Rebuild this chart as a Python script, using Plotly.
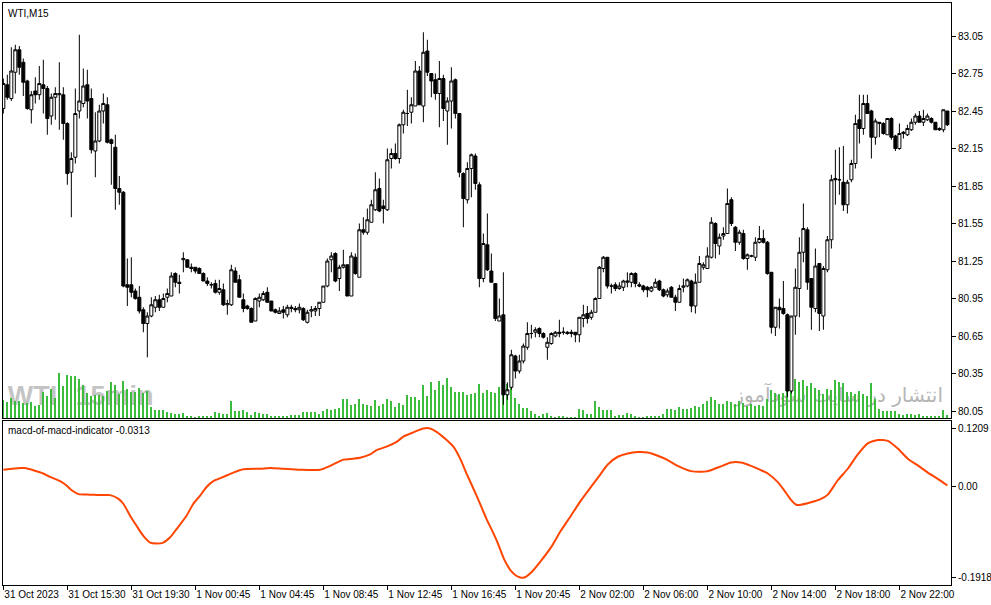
"""WTI M15 candles + tick volume, with a macd-of-macd sub-window (MT4 look)."""
import plotly.graph_objects as go

# ----- data -----
bar_idx = list(range(237))

opens = [
    82.47, 82.66, 82.55, 82.76, 82.94, 82.84, 82.69, 82.46, 82.61, 82.58,
    82.66, 82.63, 82.41, 82.56, 82.58, 82.58, 82.35, 81.96, 82.08, 82.45,
    82.51, 82.66, 82.55, 82.13, 82.21, 82.45, 82.50, 82.22, 82.16, 81.83,
    81.80, 81.06, 81.06, 81.01, 80.96, 80.86, 80.75, 80.81, 80.88, 80.94,
    80.88, 80.96, 80.97, 81.15, 81.08, 81.26, 81.26, 81.20, 81.20, 81.19,
    81.15, 81.09, 81.06, 81.07, 81.00, 81.02, 80.90, 80.90, 81.17, 81.10,
    80.94, 80.89, 80.87, 80.77, 80.93, 80.94, 81.00, 80.93, 80.86, 80.83,
    80.86, 80.82, 80.87, 80.87, 80.86, 80.87, 80.76, 80.85, 80.85, 80.87,
    80.92, 81.05, 81.26, 81.31, 81.11, 81.20, 81.22, 80.97, 81.28, 81.12,
    81.50, 81.48, 81.56, 81.66, 81.83, 81.69, 81.66, 82.07, 82.11, 82.07,
    82.34, 82.43, 82.44, 82.49, 82.77, 82.49, 82.93, 82.75, 82.70, 82.59,
    82.71, 82.45, 82.53, 82.70, 82.43, 81.95, 81.74, 81.99, 82.09, 81.86,
    81.11, 81.38, 81.17, 81.07, 80.77, 80.82, 80.18, 80.24, 80.49, 80.37,
    80.45, 80.56, 80.67, 80.68, 80.71, 80.67, 80.56, 80.59, 80.65, 80.68,
    80.68, 80.68, 80.67, 80.68, 80.66, 80.79, 80.83, 80.80, 80.84, 80.95,
    81.19, 81.28, 81.05, 81.06, 81.03, 81.04, 81.08, 81.08, 81.15, 81.06,
    81.05, 81.04, 81.01, 81.04, 81.09, 81.02, 80.98, 81.04, 80.96, 80.92,
    81.04, 81.05, 81.09, 80.89, 81.08, 81.20, 81.19, 81.28, 81.55, 81.37,
    81.45, 81.47, 81.74, 81.52, 81.40, 81.47, 81.27, 81.29, 81.28, 81.40,
    81.43, 81.40, 81.16, 80.72, 80.88, 80.87, 80.82, 80.21, 80.81, 81.03,
    81.32, 81.50, 81.11, 80.87, 81.23, 80.81, 81.18, 81.42, 81.91, 81.90,
    81.88, 81.70, 81.90, 82.03, 82.38, 82.31, 82.51, 82.45, 82.24, 82.36,
    82.35, 82.26, 82.39, 82.25, 82.15, 82.27, 82.26, 82.30, 82.36, 82.41,
    82.36, 82.38, 82.39, 82.36, 82.31, 82.30, 82.45,
]
highs = [
    82.71, 82.74, 82.96, 82.98, 82.97, 82.87, 82.70, 82.61, 82.72, 82.81,
    82.86, 82.65, 82.59, 82.64, 82.84, 82.64, 82.36, 82.12, 82.63, 83.06,
    82.79, 82.78, 82.63, 82.44, 82.50, 82.59, 82.56, 82.23, 82.26, 81.93,
    81.81, 81.27, 81.28, 81.03, 81.05, 80.88, 80.84, 80.96, 80.97, 80.98,
    80.99, 81.03, 81.16, 81.16, 81.14, 81.32, 81.26, 81.23, 81.20, 81.20,
    81.16, 81.12, 81.08, 81.10, 81.10, 81.07, 80.94, 81.22, 81.20, 81.14,
    80.99, 80.90, 80.88, 80.96, 80.99, 81.01, 81.04, 80.93, 80.87, 80.88,
    80.89, 80.90, 80.90, 80.89, 80.91, 80.88, 80.86, 80.89, 80.89, 80.92,
    81.05, 81.27, 81.32, 81.32, 81.22, 81.34, 81.22, 81.32, 81.31, 81.55,
    81.60, 81.67, 81.74, 81.96, 81.91, 81.74, 82.15, 82.15, 82.19, 82.35,
    82.46, 82.62, 82.56, 82.85, 82.81, 83.08, 83.02, 82.75, 82.75, 82.85,
    82.74, 82.56, 82.80, 82.71, 82.43, 81.96, 82.04, 82.11, 82.11, 81.88,
    81.47, 81.63, 81.31, 81.07, 80.95, 81.16, 80.28, 80.54, 80.50, 80.50,
    80.59, 80.76, 80.74, 80.72, 80.72, 80.68, 80.64, 80.68, 80.69, 80.78,
    80.72, 80.69, 80.70, 80.68, 80.80, 80.90, 80.89, 80.86, 80.96, 81.21,
    81.29, 81.28, 81.07, 81.08, 81.08, 81.10, 81.16, 81.16, 81.16, 81.08,
    81.06, 81.05, 81.05, 81.11, 81.10, 81.03, 81.03, 81.05, 80.98, 81.06,
    81.11, 81.11, 81.10, 81.15, 81.29, 81.24, 81.36, 81.60, 81.56, 81.47,
    81.52, 81.83, 81.76, 81.53, 81.50, 81.50, 81.31, 81.30, 81.44, 81.53,
    81.50, 81.41, 81.16, 80.88, 80.95, 81.09, 80.83, 80.81, 81.19, 81.44,
    81.71, 81.52, 81.11, 81.35, 81.23, 81.21, 81.45, 81.94, 82.14, 82.16,
    82.17, 81.90, 82.06, 82.42, 82.58, 82.58, 82.58, 82.46, 82.39, 82.36,
    82.36, 82.39, 82.40, 82.26, 82.35, 82.29, 82.34, 82.39, 82.43, 82.45,
    82.46, 82.43, 82.40, 82.36, 82.32, 82.46, 82.45,
]
lows = [
    82.43, 82.54, 82.53, 82.59, 82.74, 82.57, 82.46, 82.35, 82.51, 82.54,
    82.43, 82.26, 82.34, 82.38, 82.30, 82.22, 81.86, 81.60, 82.03, 82.39,
    82.48, 82.39, 82.11, 81.92, 82.20, 82.35, 82.19, 81.86, 81.66, 81.70,
    81.04, 80.89, 80.96, 80.94, 80.83, 80.68, 80.48, 80.80, 80.84, 80.85,
    80.88, 80.92, 80.97, 81.04, 80.99, 81.16, 81.20, 81.16, 81.15, 81.15,
    81.09, 81.05, 81.03, 80.99, 80.98, 80.89, 80.82, 80.89, 81.08, 80.96,
    80.84, 80.86, 80.76, 80.77, 80.88, 80.93, 80.92, 80.85, 80.83, 80.83,
    80.79, 80.80, 80.84, 80.84, 80.83, 80.77, 80.75, 80.80, 80.81, 80.81,
    80.92, 81.04, 81.16, 81.08, 81.01, 81.19, 80.97, 80.97, 81.14, 81.12,
    81.46, 81.46, 81.56, 81.65, 81.64, 81.55, 81.65, 81.99, 82.06, 82.03,
    82.27, 82.33, 82.35, 82.49, 82.50, 82.36, 82.73, 82.56, 82.54, 82.32,
    82.37, 82.18, 82.31, 82.39, 81.92, 81.52, 81.71, 81.76, 81.82, 81.04,
    81.08, 81.17, 81.08, 80.77, 80.77, 80.10, 80.14, 80.22, 80.31, 80.35,
    80.43, 80.54, 80.63, 80.64, 80.64, 80.63, 80.46, 80.58, 80.64, 80.64,
    80.66, 80.66, 80.64, 80.60, 80.60, 80.72, 80.75, 80.78, 80.84, 80.95,
    81.16, 81.03, 80.99, 81.01, 81.02, 81.01, 81.04, 81.04, 81.04, 81.04,
    81.00, 80.96, 81.00, 81.04, 81.01, 80.96, 80.96, 80.96, 80.85, 80.92,
    81.00, 81.04, 80.84, 80.83, 81.08, 81.18, 81.19, 81.27, 81.27, 81.30,
    81.42, 81.47, 81.53, 81.33, 81.38, 81.26, 81.18, 81.28, 81.25, 81.39,
    81.39, 81.14, 80.67, 80.65, 80.71, 80.82, 80.16, 80.19, 80.66, 80.80,
    81.24, 81.02, 80.70, 80.84, 80.69, 80.70, 81.16, 81.35, 81.70, 81.78,
    81.65, 81.63, 81.88, 81.99, 82.19, 82.26, 82.43, 82.07, 82.18, 82.24,
    82.26, 82.26, 82.22, 82.13, 82.14, 82.23, 82.25, 82.29, 82.34, 82.36,
    82.33, 82.37, 82.35, 82.30, 82.29, 82.28, 82.33,
]
closes = [
    82.67, 82.56, 82.77, 82.94, 82.80, 82.68, 82.47, 82.58, 82.58, 82.67,
    82.63, 82.39, 82.56, 82.59, 82.59, 82.35, 81.95, 82.07, 82.43, 82.53,
    82.65, 82.53, 82.14, 82.21, 82.45, 82.51, 82.20, 82.19, 81.83, 81.80,
    81.05, 81.04, 81.00, 80.95, 80.85, 80.75, 80.81, 80.90, 80.94, 80.88,
    80.95, 80.99, 81.13, 81.08, 81.07, 81.27, 81.20, 81.19, 81.17, 81.15,
    81.09, 81.07, 81.06, 81.00, 81.03, 80.90, 80.91, 81.18, 81.08, 80.96,
    80.87, 80.87, 80.76, 80.95, 80.96, 80.99, 80.92, 80.85, 80.84, 80.85,
    80.84, 80.88, 80.88, 80.86, 80.88, 80.78, 80.84, 80.86, 80.87, 80.92,
    81.05, 81.25, 81.29, 81.09, 81.20, 81.22, 80.97, 81.29, 81.15, 81.50,
    81.48, 81.58, 81.70, 81.82, 81.65, 81.67, 82.06, 82.11, 82.07, 82.34,
    82.44, 82.43, 82.50, 82.77, 82.50, 82.92, 82.76, 82.69, 82.59, 82.71,
    82.47, 82.53, 82.69, 82.43, 81.96, 81.75, 81.99, 82.10, 81.87, 81.11,
    81.39, 81.18, 81.08, 80.79, 80.81, 80.18, 80.22, 80.50, 80.37, 80.45,
    80.57, 80.67, 80.67, 80.70, 80.67, 80.64, 80.60, 80.67, 80.68, 80.67,
    80.68, 80.67, 80.68, 80.66, 80.80, 80.82, 80.79, 80.84, 80.95, 81.20,
    81.28, 81.05, 81.05, 81.03, 81.05, 81.09, 81.09, 81.15, 81.07, 81.05,
    81.02, 81.02, 81.04, 81.08, 81.02, 80.97, 81.01, 80.96, 80.92, 81.03,
    81.05, 81.10, 80.89, 81.08, 81.23, 81.22, 81.29, 81.56, 81.39, 81.44,
    81.47, 81.71, 81.55, 81.40, 81.48, 81.27, 81.30, 81.29, 81.40, 81.43,
    81.40, 81.15, 80.72, 80.88, 80.86, 80.83, 80.21, 80.81, 81.04, 81.32,
    81.51, 81.08, 80.88, 81.21, 80.83, 81.19, 81.42, 81.90, 81.90, 81.90,
    81.70, 81.88, 82.03, 82.35, 82.31, 82.51, 82.43, 82.24, 82.37, 82.35,
    82.27, 82.39, 82.24, 82.15, 82.27, 82.28, 82.31, 82.36, 82.41, 82.36,
    82.39, 82.41, 82.36, 82.30, 82.30, 82.46, 82.34,
]

# tick volume (relative units)
volumes = [
    18, 16, 20, 17, 17, 15, 15, 16, 12, 13, 26, 22, 29, 20, 45, 32, 43, 42, 42, 39,
    33, 25, 22, 23, 23, 22, 27, 36, 33, 24, 37, 29, 26, 26, 30, 25, 27, 11, 8, 8,
    8, 6, 5, 4, 4, 5, 2, 2, 1, 2, 2, 2, 2, 6, 5, 4, 4, 17, 7, 7,
    8, 6, 3, 6, 5, 4, 4, 2, 2, 2, 2, 2, 3, 3, 3, 6, 6, 6, 6, 4,
    7, 9,
    8, 9, 10, 19, 19, 13, 14, 19, 14, 13, 12, 18, 12, 14, 19, 17, 11, 15, 13, 23,
    21, 21, 18, 33, 22, 36, 28, 37, 33, 40, 31, 26, 26, 26, 23, 24, 25, 34, 25, 28,
    26, 25, 31, 27, 34, 30, 20, 14, 10, 10, 7, 4, 2, 4, 5, 2, 1, 2, 2, 1,
    1, 1, 9, 8, 4, 4, 17, 11, 8, 8, 8, 2, 3, 3, 5, 4, 2, 1, 1, 2,
    2, 2, 2,
    4, 9, 9, 8, 11, 9, 9, 10, 12, 11, 14, 17, 21, 18, 14, 14, 17, 16, 14, 17,
    15, 12, 14, 12, 13, 12, 19, 28, 25, 24, 25, 28, 28, 39, 36, 38, 32, 35, 30, 28,
    24, 29, 28, 38, 36, 35, 26, 26, 24, 27, 24, 22, 35, 19, 9, 7, 7, 7, 7, 4,
    3, 4, 4, 3, 4, 2, 2, 2, 2, 2, 8, 3,
]

# macd-of-macd line, sampled at bar positions
macd_bar = [
    0, 4.2, 5.4, 7.5, 10, 11.7, 14.2, 15.8, 17.1, 18.8, 21.7, 24.2, 26.7, 28.8,
    30, 31.7, 33.3, 35, 36.7, 38.3, 40, 41.7, 43.3, 45.8, 47.5, 49.2, 50.8,
    52.5, 55, 57.5, 60, 64.2, 66.7, 70, 74.2, 79.2, 81.7, 85, 87.5, 89.2, 91.7,
    93.3, 95.8, 98.3, 100, 102.5, 105, 106.7, 108.3, 110.4, 112.5, 114.2,
    115.8, 118.3, 120.8, 121.9, 123.5, 125.2, 126.9, 128.6, 130.2, 131.9,
    134.4, 136.9, 139.4, 141.9, 144.4, 146.9, 149.4, 151.1, 153.6, 156.1,
    158.6, 161.1, 163.6, 166.1, 168.6, 171.9, 175.2, 176.9, 179.4, 181.9,
    184.4, 186.9, 189.4, 191.1, 193.6, 195.2, 196.9, 198.2, 199.4, 201.9,
    204.4, 206.1, 208.6, 211.1, 213.6, 216.1, 218.6, 221.1, 223.6, 226.1,
    228.6, 231.1, 233.6, 236,
]
macd_val = [
    0.034, 0.0376, 0.0376, 0.033, 0.026, 0.019, 0.010, 0.001, -0.009, -0.017,
    -0.018, -0.019, -0.019, -0.027, -0.037, -0.062, -0.083, -0.104, -0.118,
    -0.120, -0.118, -0.107, -0.090, -0.062, -0.037, -0.020, -0.002, 0.010,
    0.019, 0.028, 0.035, 0.036, 0.0376, 0.036, 0.034, 0.034, 0.042, 0.055,
    0.057, 0.059, 0.066, 0.075, 0.082, 0.092, 0.103, 0.112, 0.120, 0.120,
    0.113, 0.099, 0.082, 0.057, 0.026, -0.020, -0.069, -0.088, -0.117,
    -0.153, -0.177, -0.189, -0.191, -0.181, -0.156, -0.128, -0.093, -0.062,
    -0.030, -0.002, 0.026, 0.045, 0.061, 0.068, 0.071, 0.070, 0.063, 0.054,
    0.042, 0.031, 0.030, 0.033, 0.041, 0.049, 0.049, 0.042, 0.033, 0.026,
    0.008, -0.009, -0.029, -0.039, -0.039, -0.034, -0.027, -0.018, 0.012,
    0.036, 0.066, 0.089, 0.096, 0.094, 0.078, 0.057, 0.043, 0.028, 0.015,
    0.001,
]

price_ticks = [80.05, 80.35, 80.65, 80.95, 81.25, 81.55, 81.85, 82.15, 82.45, 82.75, 83.05]
macd_ticks = [0.1209, 0.0, -0.1918]
macd_tick_text = ["0.1209", "0.00", "-0.1918"]

time_tick_bars = [0, 16, 32, 48, 64, 80, 96, 112, 128, 144, 160, 176, 192, 208, 224]
time_tick_text = [
    "31 Oct 2023", "31 Oct 15:30", "31 Oct 19:30", "1 Nov 00:45", "1 Nov 04:45",
    "1 Nov 08:45", "1 Nov 12:45", "1 Nov 16:45", "1 Nov 20:45", "2 Nov 02:00",
    "2 Nov 06:00", "2 Nov 10:00", "2 Nov 14:00", "2 Nov 18:00", "2 Nov 22:00",
]

# ----- figure -----
FONT = "Liberation Sans, Arial, sans-serif"
X_RANGE = [-0.08, 236.9]
PRICE_RANGE = [79.994, 83.314]
MACD_RANGE = [-0.2065, 0.1356]

fig = go.Figure()

# watermarks (main subplot, so volume + candles draw over them)
fig.add_trace(go.Scatter(
    x=[7.3, 27.8], y=[80.155, 80.155], text=["WTI", "15min"],
    mode="text", textposition="middle center",
    textfont=dict(family="Liberation Sans", size=27, color="#c4c4c4", weight="bold"),
    hoverinfo="skip", showlegend=False, cliponaxis=False, xaxis="x", yaxis="y",
))
fig.add_trace(go.Scatter(
    x=[208.8], y=[80.165], text=["انتشار در سایت سودآموز"],
    mode="text", textposition="middle center",
    textfont=dict(family="DejaVu Sans", size=20, color="#b6b6b6"),
    hoverinfo="skip", showlegend=False, cliponaxis=False, xaxis="x", yaxis="y",
))

fig.add_trace(go.Bar(
    x=bar_idx, y=volumes, width=0.24,
    marker=dict(color="#3dbb3d", line=dict(width=0)),
    hoverinfo="skip", showlegend=False, xaxis="x", yaxis="y3",
))

fig.add_trace(go.Candlestick(
    x=bar_idx, open=opens, high=highs, low=lows, close=closes,
    increasing=dict(fillcolor="white", line=dict(color="black", width=1)),
    decreasing=dict(fillcolor="black", line=dict(color="black", width=1)),
    whiskerwidth=0, showlegend=False, xaxis="x", yaxis="y4",
))

fig.add_trace(go.Scatter(
    x=macd_bar, y=macd_val, mode="lines",
    line=dict(color="#ff4500", width=2, shape="spline", smoothing=0.6),
    showlegend=False, xaxis="x2", yaxis="y2",
))

axis_common = dict(showgrid=False, zeroline=False, showline=True, mirror=True,
                   linecolor="black", linewidth=1, automargin=False,
                   tickfont=dict(family=FONT, size=10, color="black"))

fig.update_layout(
    width=991, height=605,
    margin=dict(l=3, r=40, t=3, b=20),
    paper_bgcolor="white", plot_bgcolor="white",
    boxgap=0.2, boxgroupgap=0.05,
    xaxis=dict(domain=[0, 1], anchor="y", range=X_RANGE, showticklabels=False,
               ticks="", rangeslider=dict(visible=False), **axis_common),
    yaxis=dict(domain=[0.2869, 1], anchor="x", side="right", range=PRICE_RANGE,
               tickvals=price_ticks, tickformat=".2f", ticks="outside", ticklen=4,
               tickcolor="black", **axis_common),
    yaxis3=dict(overlaying="y", anchor="x", range=[0, 415], visible=False),
    yaxis4=dict(overlaying="y", anchor="x", range=PRICE_RANGE, visible=False),
    xaxis2=dict(domain=[0, 1], anchor="y2", range=X_RANGE,
                tickvals=time_tick_bars, ticktext=time_tick_text, tickangle=0,
                ticklabelposition="outside right", ticks="outside", ticklen=4,
                tickcolor="black", **axis_common),
    yaxis2=dict(domain=[0, 0.2818], anchor="x2", side="right", range=MACD_RANGE,
                tickvals=macd_ticks, ticktext=macd_tick_text, ticks="outside",
                ticklen=4, tickcolor="black", **axis_common),
    annotations=[
        dict(text="WTI,M15", xref="paper", yref="paper", x=0, y=1,
             xanchor="left", yanchor="top", xshift=3, yshift=-3, showarrow=False,
             font=dict(family=FONT, size=10, color="black")),
        dict(text="macd-of-macd-indicator -0.0313", xref="paper", yref="paper",
             x=0, y=0.2818, xanchor="left", yanchor="top", xshift=3, yshift=-2,
             showarrow=False, font=dict(family=FONT, size=10, color="black")),
    ],
)

# page body has an 8px default margin; drop it so the figure sits at the window corner
fig.write_html("out.html", config=dict(displayModeBar=False),
               post_script="document.body.style.margin='0';")
